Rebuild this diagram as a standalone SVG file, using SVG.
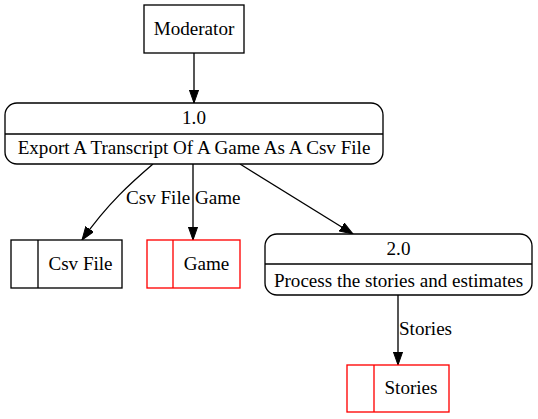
<svg xmlns="http://www.w3.org/2000/svg" width="538" height="419" viewBox="0 0 538 419">
<defs>
<marker id="ah" markerWidth="14" markerHeight="10" refX="13.3" refY="5" orient="auto" markerUnits="userSpaceOnUse">
<path d="M0,0.3 L13.3,5 L0,9.7 Z" fill="#000" stroke="#000" stroke-width="1"/>
</marker>
</defs>
<style>
.c{text-anchor:middle}
.n{fill:#fff;stroke:#000;stroke-width:1.33}
.r{fill:#fff;stroke:#ff0000;stroke-width:1.33}
.e{fill:none;stroke:#000;stroke-width:1.33;marker-end:url(#ah)}
</style>
<rect width="538" height="419" fill="#fff"/>
<g font-family="Liberation Serif, serif" font-size="19.1" fill="#000">
<g id="connectors">
<path class="e" d="M194,53 L194,103"/>
<path class="e" d="M153,164 C132,182 108,203 82,240"/>
<path class="e" d="M193,164 L193,240"/>
<path class="e" d="M240,164 L353,234"/>
<path class="e" d="M398,295 L398,365"/>
<text x="126" y="204">Csv File</text>
<text x="195" y="204">Game</text>
<text x="399" y="335">Stories</text>
</g>
<g id="moderator">
<rect class="n" x="144" y="5" width="100" height="48"/>
<text class="c" x="194" y="35">Moderator</text>
</g>
<g id="p1">
<rect class="n" x="5" y="103" width="378" height="61" rx="12" ry="12"/>
<line x1="5" y1="134" x2="383" y2="134" stroke="#000" stroke-width="1.33"/>
<text class="c" x="194" y="124">1.0</text>
<text class="c" x="194" y="154">Export A Transcript Of A Game As A Csv File</text>
</g>
<g id="csvfile">
<rect class="n" x="11" y="240" width="111" height="48"/>
<line x1="38" y1="240" x2="38" y2="288" stroke="#000" stroke-width="1.33"/>
<text class="c" x="80.5" y="270">Csv File</text>
</g>
<g id="game">
<rect class="r" x="147" y="240" width="93" height="48"/>
<line x1="173" y1="240" x2="173" y2="288" stroke="#ff0000" stroke-width="1.33"/>
<text class="c" x="206.5" y="270">Game</text>
</g>
<g id="p2">
<rect class="n" x="265" y="234" width="267" height="61" rx="12" ry="12"/>
<line x1="265" y1="264" x2="532" y2="264" stroke="#000" stroke-width="1.33"/>
<text class="c" x="398.5" y="255">2.0</text>
<text class="c" x="398.5" y="287">Process the stories and estimates</text>
</g>
<g id="stories">
<rect class="r" x="347" y="365" width="102" height="47"/>
<line x1="374" y1="365" x2="374" y2="412" stroke="#ff0000" stroke-width="1.33"/>
<text class="c" x="411" y="394">Stories</text>
</g>
</g>
</svg>
